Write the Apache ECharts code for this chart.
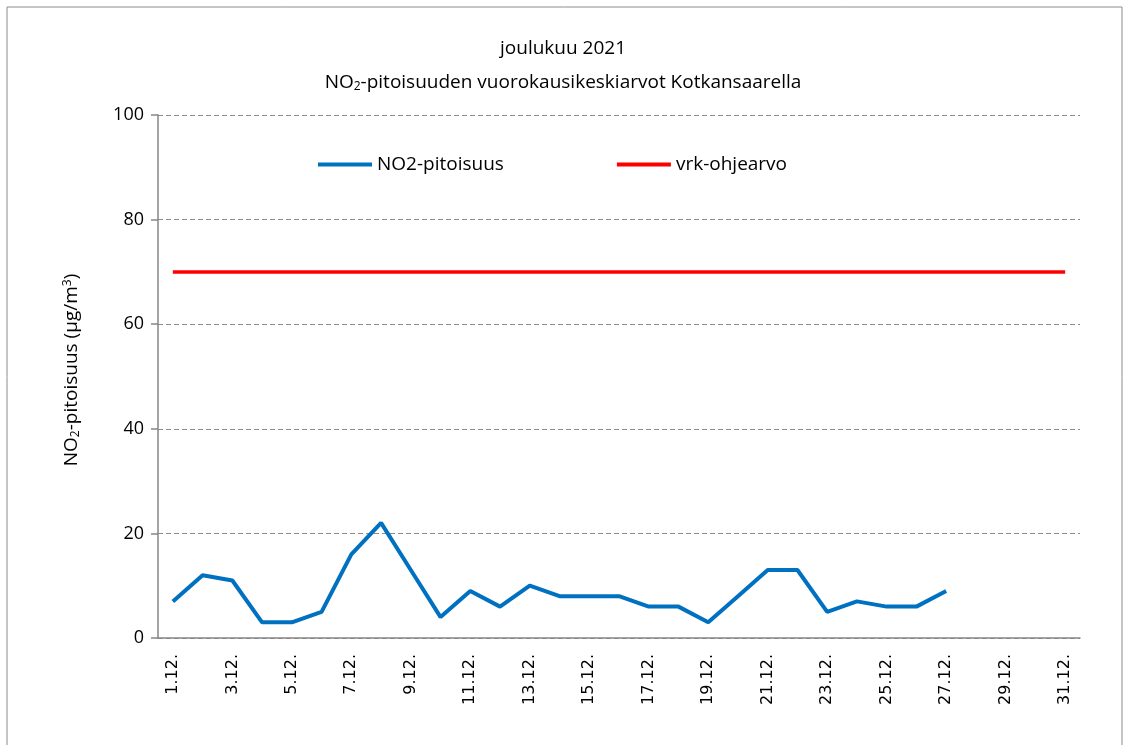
<!DOCTYPE html>
<html>
<head>
<meta charset="utf-8">
<script src="https://cdn.jsdelivr.net/npm/echarts@6/dist/echarts.min.js"></script>
<style>
    html, body { margin: 0; padding: 0; background: #fff; }
    #chart { width: 1126px; height: 745px; }
</style>
</head>
<body>
<div id="chart"></div>
<script>
// päivät 1.12. - 31.12.
const days = [];
for (let d = 1; d <= 31; d++) {
    days.push(d + '.12.');
}

// NO2 vuorokausikeskiarvot (µg/m3), loppukuu puuttuu
const no2 = [7, 12, 11, 3, 3, 5, 16, 22, 13, 4, 9, 6, 10, 8, 8, 8, 6, 6, 3, 8, 13, 13, 5, 7, 6, 6, 9, null, null, null, null];

// vrk-ohjearvo
const guide = [70, 70, 70, 70, 70, 70, 70, 70, 70, 70, 70, 70, 70, 70, 70, 70, 70, 70, 70, 70, 70, 70, 70, 70, 70, 70, 70, 70, 70, 70, 70];

const font = '"Liberation Sans Narrow", "Open Sans", sans-serif';
const axisColor = '#868686';

const chart = echarts.init(document.getElementById('chart'));

chart.setOption({
    animation: false,
    textStyle: { fontFamily: font },
    graphic: [
        {
            type: 'rect',
            shape: { x: 7, y: 7, width: 1115, height: 745 },
            style: { fill: 'none', stroke: '#8c8c8c', lineWidth: 1 }
        },
        {
            type: 'text',
            left: 'center',
            top: 32,
            style: {
                text: 'joulukuu 2021\n{n|NO}{s|2}{n|-pitoisuuden vuorokausikeskiarvot Kotkansaarella}',
                fontFamily: font,
                fontSize: 19,
                lineHeight: 34,
                textAlign: 'center',
                fill: '#000',
                rich: {
                    n: { fontSize: 19, fontFamily: font, fill: '#000' },
                    s: { fontSize: 12, fontFamily: font, fill: '#000', padding: [8, 0, 0, 0] }
                }
            }
        },
        {
            type: 'text',
            x: 72,
            y: 370,
            rotation: Math.PI / 2,
            style: {
                text: '{n|NO}{s|2}{n|-pitoisuus (µg/m}{t|3}{n|)}',
                textAlign: 'center',
                textVerticalAlign: 'middle',
                rich: {
                    n: { fontSize: 19, fontFamily: font, fill: '#000' },
                    s: { fontSize: 12, fontFamily: font, fill: '#000', padding: [8, 0, 0, 0] },
                    t: { fontSize: 12, fontFamily: font, fill: '#000', padding: [0, 0, 8, 0] }
                }
            }
        }
    ],
    legend: {
        left: 313,
        top: 150,
        itemWidth: 54,
        itemHeight: 4,
        itemGap: 113,
        icon: 'rect',
        textStyle: { fontSize: 19, fontFamily: font, color: '#000' },
        data: ['NO2-pitoisuus', 'vrk-ohjearvo']
    },
    grid: {
        left: 158,
        right: 46,
        top: 115,
        bottom: 107
    },
    xAxis: {
        type: 'category',
        data: days,
        boundaryGap: true,
        axisLine: { lineStyle: { color: axisColor, width: 1.5 } },
        axisTick: {
            interval: 1,
            length: 6,
            lineStyle: { color: axisColor, width: 1.5 }
        },
        axisLabel: {
            interval: 1,
            rotate: 90,
            fontSize: 16,
            fontFamily: 'DejaVu Sans',
            color: '#000',
            margin: 16
        }
    },
    yAxis: {
        type: 'value',
        min: 0,
        max: 100,
        interval: 20,
        axisLine: { show: true, lineStyle: { color: axisColor, width: 1.5 } },
        axisTick: { show: true, length: 7, lineStyle: { color: axisColor, width: 1.5 } },
        axisLabel: { fontSize: 18, fontFamily: font, color: '#000', margin: 14 },
        splitLine: {
            show: true,
            lineStyle: { type: [5, 3], color: '#8c8c8c', width: 1.2 }
        }
    },
    series: [
        {
            name: 'NO2-pitoisuus',
            type: 'line',
            data: no2,
            color: '#0070c0',
            showSymbol: false,
            symbol: 'none',
            lineStyle: { width: 4, color: '#0070c0' },
            z: 3
        },
        {
            name: 'vrk-ohjearvo',
            type: 'line',
            data: guide,
            color: '#ff0000',
            showSymbol: false,
            symbol: 'none',
            lineStyle: { width: 3.5, color: '#ff0000' },
            z: 2
        }
    ]
});
</script>
</body>
</html>
